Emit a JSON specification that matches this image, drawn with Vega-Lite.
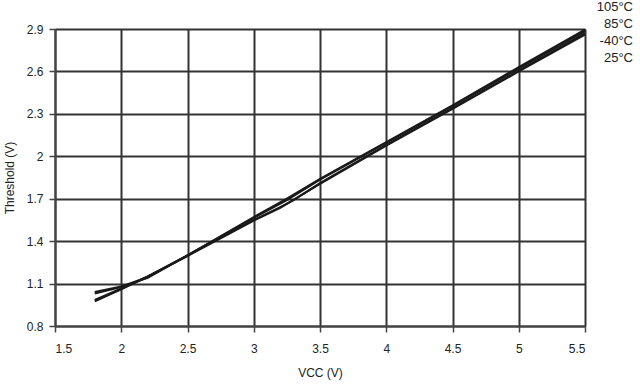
{
  "$schema": "https://vega.github.io/schema/vega-lite/v6.json",
  "autosize": "none",
  "width": 530,
  "height": 297,
  "padding": {"left": 55, "top": 29, "right": 55, "bottom": 58},
  "background": "white",
  "config": {
    "view": {"stroke": "#999999", "strokeWidth": 1},
    "font": "Liberation Sans"
  },
  "data": {
    "values": [
      {"s": "105°C", "v": 1.8, "t": 1.04}, {"s": "105°C", "v": 2.0, "t": 1.08}, {"s": "105°C", "v": 2.2, "t": 1.145}, {"s": "105°C", "v": 2.5, "t": 1.3}, {"s": "105°C", "v": 3.0, "t": 1.57}, {"s": "105°C", "v": 3.25, "t": 1.7}, {"s": "105°C", "v": 3.5, "t": 1.84}, {"s": "105°C", "v": 4.0, "t": 2.1}, {"s": "105°C", "v": 4.5, "t": 2.36}, {"s": "105°C", "v": 5.0, "t": 2.63}, {"s": "105°C", "v": 5.5, "t": 2.895},
      {"s": "85°C", "v": 1.8, "t": 1.03}, {"s": "85°C", "v": 2.0, "t": 1.075}, {"s": "85°C", "v": 2.2, "t": 1.14}, {"s": "85°C", "v": 2.5, "t": 1.3}, {"s": "85°C", "v": 3.0, "t": 1.565}, {"s": "85°C", "v": 3.25, "t": 1.69}, {"s": "85°C", "v": 3.5, "t": 1.835}, {"s": "85°C", "v": 4.0, "t": 2.095}, {"s": "85°C", "v": 4.5, "t": 2.355}, {"s": "85°C", "v": 5.0, "t": 2.62}, {"s": "85°C", "v": 5.5, "t": 2.885},
      {"s": "-40°C", "v": 1.8, "t": 0.975}, {"s": "-40°C", "v": 2.0, "t": 1.06}, {"s": "-40°C", "v": 2.2, "t": 1.15}, {"s": "-40°C", "v": 2.5, "t": 1.3}, {"s": "-40°C", "v": 3.0, "t": 1.55}, {"s": "-40°C", "v": 3.2, "t": 1.64}, {"s": "-40°C", "v": 3.3, "t": 1.69}, {"s": "-40°C", "v": 3.5, "t": 1.81}, {"s": "-40°C", "v": 4.0, "t": 2.08}, {"s": "-40°C", "v": 4.5, "t": 2.34}, {"s": "-40°C", "v": 5.0, "t": 2.605}, {"s": "-40°C", "v": 5.5, "t": 2.87},
      {"s": "25°C", "v": 1.8, "t": 0.985}, {"s": "25°C", "v": 2.0, "t": 1.065}, {"s": "25°C", "v": 2.2, "t": 1.15}, {"s": "25°C", "v": 2.5, "t": 1.295}, {"s": "25°C", "v": 3.0, "t": 1.545}, {"s": "25°C", "v": 3.2, "t": 1.635}, {"s": "25°C", "v": 3.5, "t": 1.805}, {"s": "25°C", "v": 4.0, "t": 2.075}, {"s": "25°C", "v": 4.5, "t": 2.335}, {"s": "25°C", "v": 5.0, "t": 2.6}, {"s": "25°C", "v": 5.5, "t": 2.86}
    ]
  },
  "mark": {"type": "line", "strokeWidth": 2},
  "encoding": {
    "x": {
      "field": "v", "type": "quantitative",
      "scale": {"domain": [1.5, 5.5], "nice": false, "zero": false},
      "axis": {
        "title": "VCC (V)", "values": [1.5, 2, 2.5, 3, 3.5, 4, 4.5, 5, 5.5], "format": "~g",
        "grid": true, "gridColor": "#333333", "gridWidth": 2, "gridOpacity": 1,
        "domainColor": "#444444", "domainWidth": 2,
        "tickColor": "#444444", "tickSize": 6, "tickWidth": 1.5,
        "labelFont": "Liberation Sans", "labelFontSize": 12, "labelColor": "#222222", "labelPadding": 11,
        "titleFont": "Liberation Sans", "titleFontSize": 12, "titleFontWeight": "normal", "titleColor": "#222222", "titlePadding": 13
      }
    },
    "y": {
      "field": "t", "type": "quantitative",
      "scale": {"domain": [0.8, 2.9], "nice": false, "zero": false},
      "axis": {
        "title": "Threshold (V)", "values": [0.8, 1.1, 1.4, 1.7, 2, 2.3, 2.6, 2.9], "format": "~g",
        "grid": true, "gridColor": "#333333", "gridWidth": 2, "gridOpacity": 1,
        "domainColor": "#444444", "domainWidth": 2,
        "tickColor": "#444444", "tickSize": 6, "tickWidth": 1.5,
        "labelFont": "Liberation Sans", "labelFontSize": 12, "labelColor": "#222222", "labelPadding": 6,
        "titleFont": "Liberation Sans", "titleFontSize": 12, "titleFontWeight": "normal", "titleColor": "#222222", "titlePadding": 10
      }
    },
    "color": {
      "field": "s", "type": "nominal",
      "scale": {"domain": ["105°C", "85°C", "-40°C", "25°C"], "range": ["#1a1a1a", "#1a1a1a", "#1a1a1a", "#1a1a1a"]},
      "legend": {
        "orient": "none", "legendX": 565, "legendY": -29, "title": null,
        "symbolOpacity": 0, "symbolSize": 0, "symbolStrokeWidth": 0,
        "labelFont": "Liberation Sans", "labelFontSize": 13, "labelColor": "#222222",
        "labelAlign": "right", "labelOffset": 0, "rowPadding": 3
      }
    }
  }
}
